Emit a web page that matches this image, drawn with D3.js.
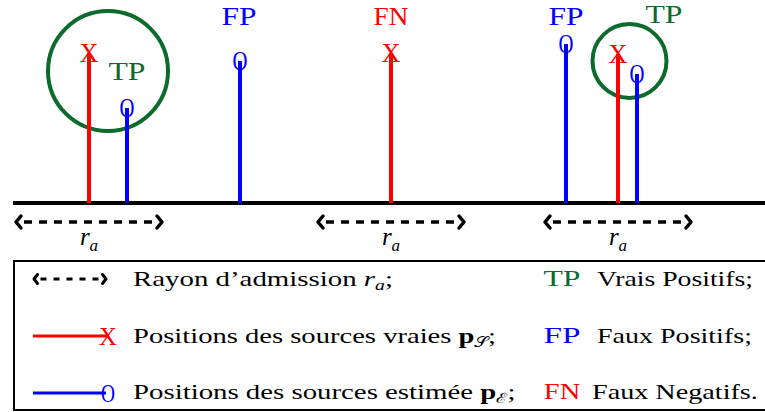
<!DOCTYPE html>
<html><head><meta charset="utf-8">
<script src="https://cdn.jsdelivr.net/npm/d3@7"></script>
<style>body{margin:0;background:#fff}svg{display:block}</style></head>
<body><svg id="c" width="765" height="412"></svg>
<script>
// ---- data ----
const truePositions = [89, 391, 618];
const trueHeights   = [150, 150, 149];
const estPositions  = [127, 240, 566, 637];
const estHeights    = [95, 142, 159, 129];
const admissionRadius = 74;
const topLabels       = ["TP", "FP", "FN", "FP", "TP"];
const topLabelPos     = [127, 239, 391, 566, 664];
const topLabelHeights = [123, 178, 178, 178, 180];
const tpCircleCenters = [108, 629.5];
const tpCircleHeights = [132, 142];
const tpCircleRadii   = [60, 37];
const legendLeft  = ["Rayon d\u2019admission ", "Positions des sources vraies ", "Positions des sources estim\u00e9e "];
const legendCodes = ["TP", "FP", "FN"];
const legendRight = ["Vrais Positifs;", "Faux Positifs;", "Faux Negatifs."];

const colors = {TP: "#0c6a2c", FP: "#0000ff", FN: "#ff0000", true: "#ff0000", est: "#0000ff"};
const FONT = "Liberation Serif";

const svg = d3.select("#c");
const x = d3.scaleLinear().domain([0, 765]).range([0, 765]);
const y = d3.scaleLinear().domain([0, 160]).range([203, 43]);

function txt(parent) {
  return parent.append("text").style("font-family", FONT);
}
// stretch a text horizontally to a target width, anchored at ax
function fit(sel, width, ax) {
  const w = sel.node().getBBox().width;
  const k = width / w;
  sel.attr("transform", `translate(${ax},0) scale(${k},1) translate(${-ax},0)`);
}

// baseline
svg.append("line").attr("x1", x(13)).attr("x2", x(765)).attr("y1", y(0)).attr("y2", y(0))
  .attr("stroke", "#000").attr("stroke-width", 4);

// TP circles
svg.selectAll("circle.tp").data(tpCircleCenters).enter().append("circle")
  .attr("cx", d => x(d)).attr("cy", (d, i) => y(tpCircleHeights[i]))
  .attr("r", (d, i) => tpCircleRadii[i])
  .attr("fill", "none").attr("stroke", colors.TP).attr("stroke-width", 4);

// stems
function stems(pos, hts, color, glyph) {
  const g = svg.append("g");
  g.selectAll("line").data(pos).enter().append("line")
    .attr("x1", d => x(d)).attr("x2", d => x(d))
    .attr("y1", y(0)).attr("y2", (d, i) => y(hts[i]))
    .attr("stroke", color).attr("stroke-width", 4);
  g.selectAll("text").data(pos).enter().append("text")
    .style("font-family", FONT)
    .attr("x", d => x(d)).attr("y", (d, i) => y(hts[i]))
    .attr("dy", "0.33em").attr("text-anchor", "middle")
    .attr("font-size", 28).attr("fill", color)
    .text(glyph)
    .each(function (d) { fit(d3.select(this), glyph === "X" ? 19 : 15, x(d)); });
}
stems(truePositions, trueHeights, colors.true, "X");
stems(estPositions, estHeights, colors.est, "O");

// top labels
svg.selectAll("text.lab").data(topLabels).enter().append("text")
  .style("font-family", FONT)
  .attr("x", (d, i) => x(topLabelPos[i])).attr("y", (d, i) => y(topLabelHeights[i]))
  .attr("text-anchor", "middle").attr("font-size", 26)
  .attr("fill", d => colors[d]).text(d => d)
  .each(function (d, i) { fit(d3.select(this), d === "TP" ? 37 : 35, x(topLabelPos[i])); });

// admission-radius arrows
function dashedArrow(g, x1, x2, yy, head, dash, sw) {
  g.append("line").attr("x1", x1 + head + 3).attr("x2", x2 - head - 3).attr("y1", yy).attr("y2", yy)
    .attr("stroke", "#000").attr("stroke-width", sw).attr("stroke-dasharray", dash);
  g.append("path").attr("d", `M${x1 + head},${yy - head} L${x1 + 1},${yy} L${x1 + head},${yy + head}`)
    .attr("fill", "none").attr("stroke", "#000").attr("stroke-width", sw)
    .attr("stroke-linecap", "round").attr("stroke-linejoin", "round");
  g.append("path").attr("d", `M${x2 - head},${yy - head} L${x2 - 1},${yy} L${x2 - head},${yy + head}`)
    .attr("fill", "none").attr("stroke", "#000").attr("stroke-width", sw)
    .attr("stroke-linecap", "round").attr("stroke-linejoin", "round");
}
const arrowG = svg.append("g");
truePositions.forEach(p => {
  dashedArrow(arrowG, x(p - admissionRadius), x(p + admissionRadius), 222, 6, "8 7", 3.5);
  const t = txt(arrowG).attr("x", x(p)).attr("y", 245).attr("text-anchor", "middle")
    .attr("font-size", 25);
  t.append("tspan").attr("font-style", "italic").text("r");
  t.append("tspan").attr("font-style", "italic").attr("font-size", 17).attr("dy", 6).text("a");
});

// legend box
svg.append("rect").attr("x", 14).attr("y", 261).attr("width", 800).attr("height", 149)
  .attr("fill", "none").attr("stroke", "#000").attr("stroke-width", 2);

const rowY = [286, 343, 399];
const symY = [279, 336, 393];
const leftWidths = [260, 364, 382];
const rightX = [597, 597, 592];
const rightWidths = [156, 155, 166];
const lg = svg.append("g");
dashedArrow(lg, 33, 107, symY[0], 4.5, "6 7", 3);
lg.append("line").attr("x1", 33).attr("x2", 108).attr("y1", symY[1]).attr("y2", symY[1])
  .attr("stroke", colors.true).attr("stroke-width", 3);
txt(lg).attr("x", 108).attr("y", symY[1]).attr("dy", "0.33em").attr("text-anchor", "middle")
  .attr("font-size", 26).attr("fill", colors.true).text("X")
  .each(function () { fit(d3.select(this), 18, 108); });
lg.append("line").attr("x1", 33).attr("x2", 106).attr("y1", symY[2]).attr("y2", symY[2])
  .attr("stroke", colors.est).attr("stroke-width", 3);
txt(lg).attr("x", 108).attr("y", symY[2]).attr("dy", "0.33em").attr("text-anchor", "middle")
  .attr("font-size", 26).attr("fill", colors.est).text("O")
  .each(function () { fit(d3.select(this), 14, 108); });

legendLeft.forEach((s, i) => {
  const t = txt(lg).attr("x", 133).attr("y", rowY[i]).attr("font-size", 22);
  t.append("tspan").text(s);
  if (i === 0) {
    t.append("tspan").attr("font-style", "italic").text("r");
    t.append("tspan").attr("font-style", "italic").attr("font-size", 15).attr("dy", 4).text("a");
    t.append("tspan").attr("dy", -4).text(";");
  } else {
    t.append("tspan").attr("font-weight", "bold").text("p");
    t.append("tspan").attr("font-size", 14).attr("dy", 4).text(i === 1 ? "\u{1D4AE}" : "\u2130");
    t.append("tspan").attr("dy", -4).text(";");
  }
  fit(t, leftWidths[i], 133);
});
legendCodes.forEach((c, i) => {
  const t1 = txt(lg).attr("x", 562).attr("y", rowY[i]).attr("text-anchor", "middle")
    .attr("font-size", 23).attr("fill", colors[c]).text(c);
  fit(t1, 37, 562);
  const t2 = txt(lg).attr("x", rightX[i]).attr("y", rowY[i])
    .attr("font-size", 22).text(legendRight[i]);
  fit(t2, rightWidths[i], rightX[i]);
});
</script></body></html>
